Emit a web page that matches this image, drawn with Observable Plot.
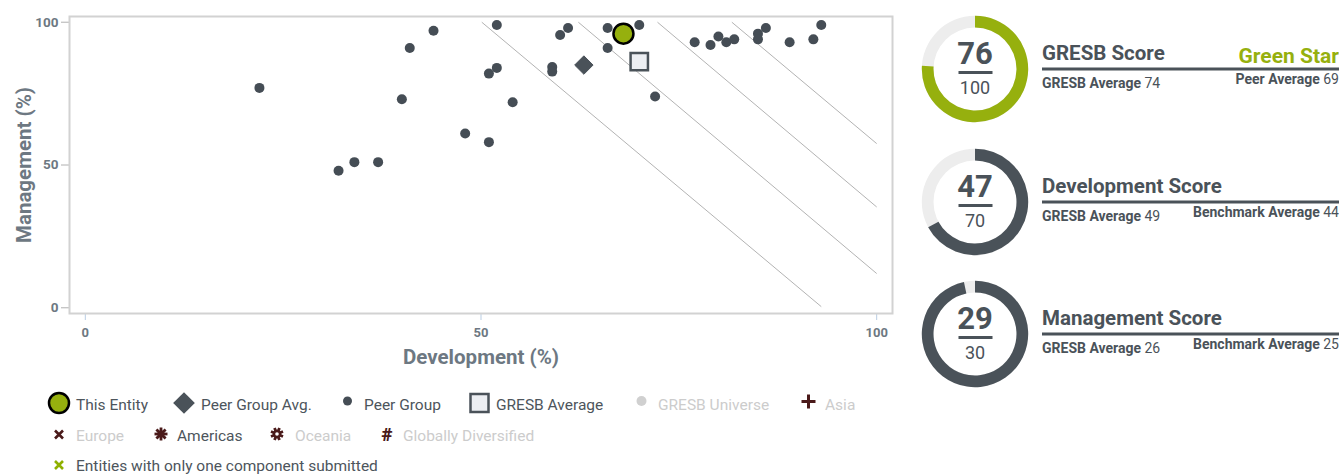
<!DOCTYPE html>
<html>
<head>
<meta charset="utf-8">
<script src="https://cdn.jsdelivr.net/npm/d3@7"></script>
<script src="https://cdn.jsdelivr.net/npm/@observablehq/plot@0.6"></script>
<style>
  html, body { margin: 0; padding: 0; background: #fff; }
  body { width: 1339px; height: 474px; position: relative; overflow: hidden; font-family: Roboto, "Noto Sans", sans-serif; }
  #plot { position: absolute; left: 0; top: 0; }
  #legend { position: absolute; left: 0; top: 380px; }
  #scores { position: absolute; left: 900px; top: 0; }
</style>
</head>
<body>
<div id="plot"></div>
<svg id="legend" width="900" height="94"></svg>
<svg id="scores" width="439" height="474"></svg>
<script>
// ---------- data ----------
const peerDev  = [22, 32, 34, 37, 40, 41, 44, 48, 51, 51, 52, 52, 54, 59, 59, 60, 61, 66, 66, 70, 72, 77, 79, 80, 81, 82, 85, 85, 86, 89, 92, 93];
const peerMgmt = [77, 48, 51, 51, 73, 91, 97, 61, 58, 82, 84, 99, 72, 84.3, 82.7, 95.5, 98, 98, 91, 99, 74, 93, 92, 95, 93, 94, 96, 94, 98, 93, 94, 99];

const entityDev = 68.0, entityMgmt = 96.0;          // This Entity
const peerAvgDev = 63.0, peerAvgMgmt = 85.0;        // Peer Group Avg.
const gresbAvgDev = 70.0, gresbAvgMgmt = 86.2;      // GRESB Average

// iso-score reference lines (start / end points)
const isoStartDev  = [50.1, 62.3, 72.3, 81.7];
const isoStartMgmt = [100, 100, 100, 100];
const isoEndDev    = [93.0, 100, 100, 100];
const isoEndMgmt   = [0.4, 12.0, 35.3, 57.5];

const xTicks = [0, 50, 100];
const yTicks = [0, 50, 100];

// score panel
const scoreTitles  = ["GRESB Score", "Development Score", "Management Score"];
const scoreValues  = [76, 47, 29];
const scoreMax     = [100, 70, 30];
const gresbAverage = [74, 49, 26];
const sideLabels   = ["Peer Average", "Benchmark Average", "Benchmark Average"];
const sideValues   = [69, 44, 25];
const starRating   = "Green Star";

// legend
const legendRow1 = ["This Entity", "Peer Group Avg.", "Peer Group", "GRESB Average", "GRESB Universe", "Asia"];
const legendRow2 = ["Europe", "Americas", "Oceania", "Globally Diversified"];
const legendRow3 = ["Entities with only one component submitted"];

// ---------- styles ----------
const DARK = "#4a5259";
const DOT = "#454d55";
const GREEN = "#96b00e";
const AXIS_TXT = "#6d7882";
const BROWN = "#4a1a1a";

// ---------- scatter ----------
const peer = peerDev.map((d, i) => ({dev: d, mgmt: peerMgmt[i]}));
const iso = isoStartDev.map((d, i) => ({x1: d, y1: isoStartMgmt[i], x2: isoEndDev[i], y2: isoEndMgmt[i]}));

const chart = Plot.plot({
  width: 900,
  height: 380,
  marginLeft: 69,
  marginRight: 8,
  marginTop: 16,
  marginBottom: 67,
  style: {fontFamily: "Roboto, sans-serif", background: "white", overflow: "visible"},
  x: {domain: [-2, 102]},
  y: {domain: [-2, 102]},
  marks: [
    Plot.axisX({ticks: xTicks, tickSize: 7, tickPadding: 7, stroke: "#b9cde3", fill: AXIS_TXT, fontWeight: "bold", fontSize: 13, label: null}),
    Plot.axisY({ticks: yTicks, tickSize: 8, tickPadding: 3, stroke: "#b0b0b0", fill: AXIS_TXT, fontWeight: "bold", fontSize: 13.5, label: null}),
    Plot.frame({stroke: "#d2d2d2", strokeWidth: 2}),
    Plot.link(iso, {x1: "x1", y1: "y1", x2: "x2", y2: "y2", stroke: "#b3b3b3", strokeWidth: 1}),
    Plot.dot(peer, {x: "dev", y: "mgmt", r: 5, fill: DOT}),
    Plot.dot([{dev: peerAvgDev, mgmt: peerAvgMgmt}], {x: "dev", y: "mgmt", symbol: "diamond2", r: 8.3, fill: DARK, stroke: DARK, strokeWidth: 1}),
    Plot.dot([{dev: gresbAvgDev, mgmt: gresbAvgMgmt}], {x: "dev", y: "mgmt", symbol: "square", r: 9.8, fill: "#eceef2", stroke: DARK, strokeWidth: 2.5}),
    Plot.dot([{dev: entityDev, mgmt: entityMgmt}], {x: "dev", y: "mgmt", r: 10, fill: GREEN, stroke: "#000", strokeWidth: 2.5}),
    Plot.text(["Development (%)"], {frameAnchor: "bottom", dy: 44, lineAnchor: "middle", textAnchor: "middle", text: d => d, fontSize: 20.5, fontWeight: "bold", fill: AXIS_TXT}),
    Plot.text(["Management (%)"], {frameAnchor: "left", dx: -45, rotate: -90, lineAnchor: "middle", textAnchor: "middle", text: d => d, fontSize: 20.5, fontWeight: "bold", fill: AXIS_TXT})
  ]
});
document.getElementById("plot").appendChild(chart);

// ---------- legend ----------
const lg = d3.select("#legend");
const TXT = "#4d555c";
function ltext(x, y, t, faint) {
  lg.append("text").attr("x", x).attr("y", y).text(t)
    .attr("font-size", 15.5).attr("fill", faint ? "#cccccc" : TXT)
    .attr("font-family", "Roboto, sans-serif");
}
const r1 = 23, r1b = 29.5, r2 = 54.5, r2b = 61, r3 = 85, r3b = 90.5;
// row 1
lg.append("circle").attr("cx", 59).attr("cy", r1).attr("r", 10).attr("fill", GREEN).attr("stroke", "#000").attr("stroke-width", 2.5);
ltext(76, r1b, legendRow1[0]);
lg.append("path").attr("d", d3.symbol(d3.symbolDiamond2, 300)()).attr("transform", `translate(184,${r1})`).attr("fill", DARK);
ltext(201, r1b, legendRow1[1]);
lg.append("circle").attr("cx", 347.5).attr("cy", r1 - 2).attr("r", 4.5).attr("fill", DOT);
ltext(364, r1b, legendRow1[2]);
lg.append("rect").attr("x", 470.5).attr("y", r1 - 9).attr("width", 18).attr("height", 18).attr("fill", "#eceef2").attr("stroke", DARK).attr("stroke-width", 2.5);
ltext(496, r1b, legendRow1[3]);
lg.append("circle").attr("cx", 641.5).attr("cy", r1 - 2).attr("r", 5).attr("fill", "#d0d0d0");
ltext(658, r1b, legendRow1[4], true);
lg.append("path").attr("d", "M801.5,21.5H815.5M808.5,14.5V28.5").attr("stroke", BROWN).attr("stroke-width", 3);
ltext(825, r1b, legendRow1[5], true);
// row 2
lg.append("path").attr("d", `M55,${r2-4}L63,${r2+4}M63,${r2-4}L55,${r2+4}`).attr("stroke", BROWN).attr("stroke-width", 2.6);
ltext(76, r2b, legendRow2[0], true);
function asterisk(cx, cy, hole) {
  const g = lg.append("g").attr("transform", `translate(${cx},${cy})`);
  for (let k = 0; k < 8; k++) {
    const a = k * Math.PI / 4 + (hole ? Math.PI / 8 : 0);
    g.append("line").attr("x1", 0).attr("y1", 0).attr("x2", 6.5 * Math.cos(a)).attr("y2", 6.5 * Math.sin(a))
      .attr("stroke", BROWN).attr("stroke-width", 2.8);
  }
  g.append("circle").attr("r", hole ? 4.3 : 3.4).attr("fill", BROWN);
  if (hole) g.append("circle").attr("r", 1.8).attr("fill", "#fff");
}
asterisk(161, r2 - 0.5, false);
ltext(177, r2b, legendRow2[1]);
asterisk(277, r2 - 0.5, true);
ltext(295, r2b, legendRow2[2], true);
lg.append("text").attr("x", 387).attr("y", r2 + 6.5).attr("text-anchor", "middle").attr("font-size", 19).attr("font-weight", "900").attr("fill", BROWN).attr("font-family", "Roboto, sans-serif").text("#");
ltext(403, r2b, legendRow2[3], true);
// row 3
lg.append("path").attr("d", `M55,${r3-4}L63,${r3+4}M63,${r3-4}L55,${r3+4}`).attr("stroke", "#8fb000").attr("stroke-width", 2.6);
ltext(76, r3b, legendRow3[0]);

// ---------- score panel ----------
const sp = d3.select("#scores");
const centersY = [69, 202, 334];
const cx = 75;
const ringColor = [GREEN, DARK, DARK];
const arc = d3.arc().innerRadius(41.5).outerRadius(53.2);
scoreValues.forEach((v, i) => {
  const ang = d3.scaleLinear().domain([0, scoreMax[i]]).range([0, 2 * Math.PI]);
  const g = sp.append("g").attr("transform", `translate(${cx},${centersY[i]})`);
  g.append("path").attr("d", arc({startAngle: 0, endAngle: 2 * Math.PI})).attr("fill", "#ededed");
  g.append("path").attr("d", arc({startAngle: 0, endAngle: ang(v)})).attr("fill", ringColor[i]);
  g.append("text").attr("x", 0).attr("y", -5.5).attr("text-anchor", "middle").attr("font-size", 31).attr("font-weight", "bold").attr("fill", DARK).attr("font-family", "Roboto, sans-serif").text(v);
  g.append("rect").attr("x", -16.5).attr("y", 2).attr("width", 34).attr("height", 3).attr("fill", DARK);
  g.append("text").attr("x", 0).attr("y", 25).attr("text-anchor", "middle").attr("font-size", 18).attr("fill", DARK).attr("font-family", "Roboto, sans-serif").text(scoreMax[i]);

  const tg = sp.append("g").attr("transform", `translate(0,${centersY[i]})`);
  tg.append("text").attr("x", 142).attr("y", -9).attr("font-size", 20.5).attr("font-weight", "bold").attr("fill", DARK).attr("font-family", "Roboto, sans-serif").text(scoreTitles[i]);
  tg.append("rect").attr("x", 142).attr("y", -1.5).attr("width", 300).attr("height", 3).attr("fill", DARK);
  const t1 = tg.append("text").attr("x", 142).attr("y", 18.5).attr("font-size", 14).attr("fill", DARK).attr("font-family", "Roboto, sans-serif");
  t1.append("tspan").attr("font-weight", "bold").text("GRESB Average ");
  t1.append("tspan").text(gresbAverage[i]);
  const t2 = tg.append("text").attr("x", 439).attr("y", 15).attr("text-anchor", "end").attr("font-size", 14).attr("fill", DARK).attr("font-family", "Roboto, sans-serif");
  t2.append("tspan").attr("font-weight", "bold").text(sideLabels[i] + " ");
  t2.append("tspan").text(sideValues[i]);
  if (i === 0) {
    tg.append("text").attr("x", 439).attr("y", -6).attr("text-anchor", "end").attr("font-size", 21).attr("font-weight", "bold").attr("fill", GREEN).attr("font-family", "Roboto, sans-serif").text(starRating);
  }
});
</script>
</body>
</html>
